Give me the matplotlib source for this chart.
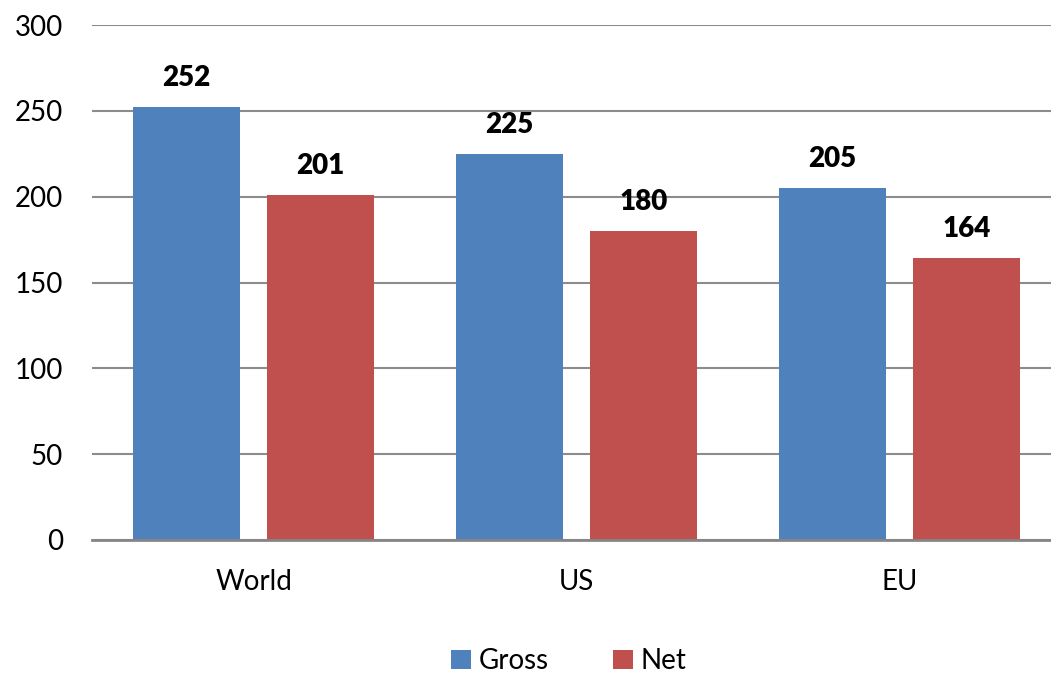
import matplotlib.pyplot as plt
import numpy as np

plt.rcParams['font.family'] = ['Lato', 'DejaVu Sans']

regions = ['World', 'US', 'EU']
gross = [252, 225, 205]
net = [201, 180, 164]
yticks = [0, 50, 100, 150, 200, 250, 300]

BLUE = '#4F81BD'
RED = '#C0504D'
GRID = '#8C8C8C'

fig = plt.figure(figsize=(10.51, 6.73), dpi=100)
ax = fig.add_axes([92 / 1051, 1 - 540 / 673, 959 / 1051, 515 / 673])

x = np.arange(len(regions))
w = 0.331
off = 0.207
b1 = ax.bar(x - off, gross, w, color=BLUE, label='Gross', zorder=3)
b2 = ax.bar(x + off, net, w, color=RED, label='Net', zorder=3)

# value labels above each bar
for bars in (b1, b2):
    for rect in bars:
        h = rect.get_height()
        ax.text(rect.get_x() + rect.get_width() / 2, h + 17, f'{h:.0f}',
                ha='center', va='center', fontsize=20, fontweight='heavy')

ax.set_ylim(0, 300)
ax.set_xlim(-0.5, -0.5 + 959 / 323)
ax.set_yticks(yticks)
ax.set_xticks(x)
ax.set_xticklabels(regions)
ax.tick_params(axis='both', length=0, labelsize=20)
ax.tick_params(axis='y', pad=21)
ax.tick_params(axis='x', pad=21)

ax.yaxis.grid(True, color=GRID, linewidth=1.5, zorder=0)
for s in ['left', 'right', 'top']:
    ax.spines[s].set_visible(False)
ax.spines['bottom'].set_color('#868686')
ax.spines['bottom'].set_linewidth(2)
ax.spines['bottom'].set_zorder(4)

fig.legend(handles=[b1, b2], loc='center', bbox_to_anchor=(569 / 1051, 1 - 661 / 673),
           ncol=2, frameon=False, fontsize=20, handlelength=0.7, handleheight=0.7,
           handletextpad=0.3, columnspacing=2.3)

fig.savefig('out.png', dpi=100)
